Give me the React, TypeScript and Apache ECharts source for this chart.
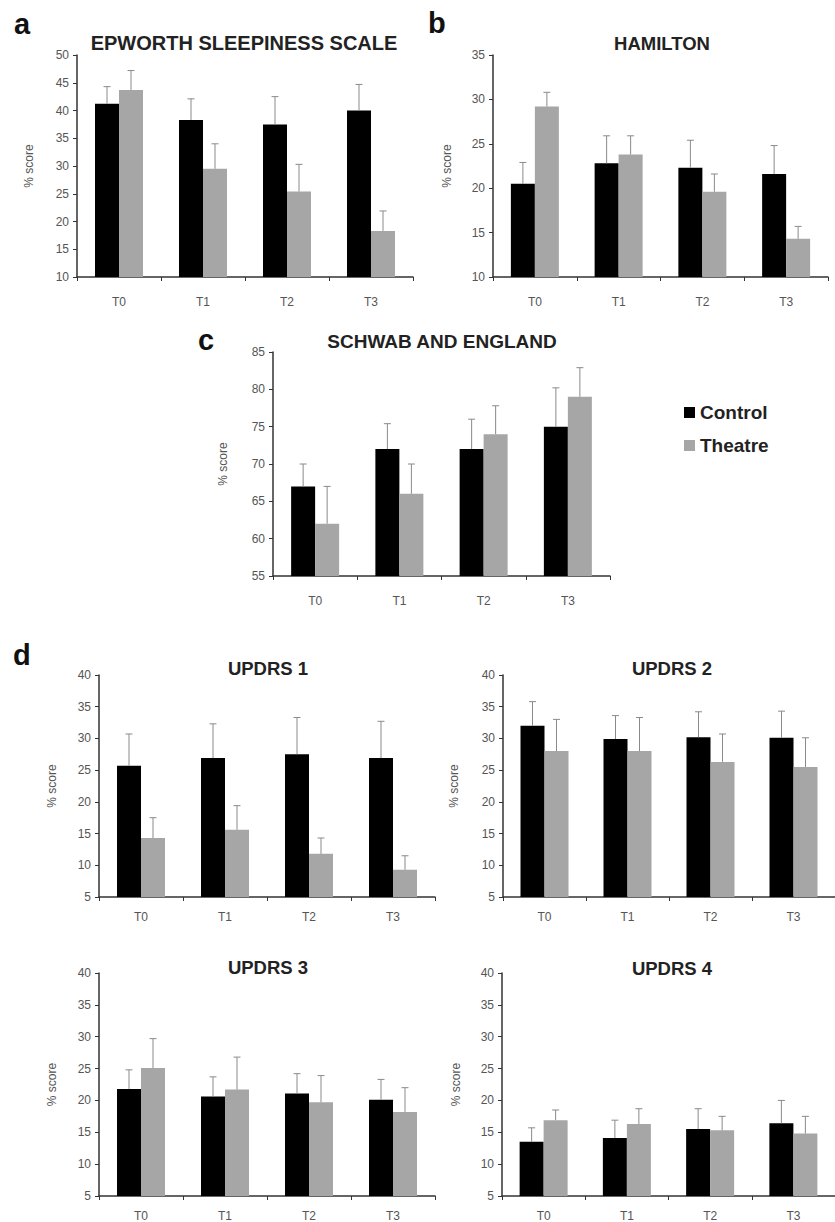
import React, { useEffect, useRef } from "react";
import * as echarts from "echarts";

const categories = ["T0", "T1", "T2", "T3"];

// a: Epworth
const epworthControl = [41.2, 38.3, 37.5, 40.0];
const epworthControlSd = [3.1, 3.8, 5.0, 4.7];
const epworthTheatre = [43.7, 29.5, 25.4, 18.3];
const epworthTheatreSd = [3.5, 4.5, 4.9, 3.6];

// b: Hamilton
const hamiltonControl = [20.5, 22.8, 22.3, 21.6];
const hamiltonControlSd = [2.4, 3.1, 3.1, 3.2];
const hamiltonTheatre = [29.2, 23.8, 19.6, 14.3];
const hamiltonTheatreSd = [1.6, 2.1, 2.0, 1.4];

// c: Schwab and England
const schwabControl = [67, 72, 72, 75];
const schwabControlSd = [3, 3.4, 4, 5.2];
const schwabTheatre = [62, 66, 74, 79];
const schwabTheatreSd = [5, 4, 3.8, 3.9];

// d: UPDRS 1-4
const updrs1Control = [25.7, 26.9, 27.5, 26.9];
const updrs1ControlSd = [5.0, 5.4, 5.8, 5.8];
const updrs1Theatre = [14.3, 15.6, 11.8, 9.3];
const updrs1TheatreSd = [3.2, 3.8, 2.5, 2.2];

const updrs2Control = [32.0, 29.9, 30.2, 30.1];
const updrs2ControlSd = [3.8, 3.7, 4.0, 4.2];
const updrs2Theatre = [28.0, 28.0, 26.3, 25.5];
const updrs2TheatreSd = [5.0, 5.3, 4.4, 4.6];

const updrs3Control = [21.8, 20.6, 21.1, 20.1];
const updrs3ControlSd = [3.0, 3.1, 3.1, 3.2];
const updrs3Theatre = [25.1, 21.7, 19.7, 18.2];
const updrs3TheatreSd = [4.6, 5.1, 4.2, 3.8];

const updrs4Control = [13.5, 14.1, 15.5, 16.4];
const updrs4ControlSd = [2.2, 2.8, 3.2, 3.6];
const updrs4Theatre = [16.9, 16.3, 15.3, 14.8];
const updrs4TheatreSd = [1.6, 2.4, 2.2, 2.7];

const seriesNames = ["Control", "Theatre"];

type Panel = {
  title: string;
  control: number[];
  controlSd: number[];
  theatre: number[];
  theatreSd: number[];
  min: number;
  max: number;
  grid: { left: number; top: number; width: number; height: number };
  titlePos: [number, number];
  titleSize: number;
  nameGap: number;
  labelMargin: number;
};

const panels: Panel[] = [
  { title: "EPWORTH SLEEPINESS SCALE", control: epworthControl, controlSd: epworthControlSd, theatre: epworthTheatre, theatreSd: epworthTheatreSd, min: 10, max: 50, grid: { left: 77, top: 55, width: 336, height: 222 }, titlePos: [244, 43], titleSize: 20, nameGap: 42, labelMargin: 19 },
  { title: "HAMILTON", control: hamiltonControl, controlSd: hamiltonControlSd, theatre: hamiltonTheatre, theatreSd: hamiltonTheatreSd, min: 10, max: 35, grid: { left: 493, top: 55, width: 335, height: 222 }, titlePos: [662, 43], titleSize: 18.5, nameGap: 40, labelMargin: 19 },
  { title: "SCHWAB AND ENGLAND", control: schwabControl, controlSd: schwabControlSd, theatre: schwabTheatre, theatreSd: schwabTheatreSd, min: 55, max: 85, grid: { left: 273, top: 352, width: 337, height: 224 }, titlePos: [442, 341], titleSize: 19, nameGap: 44, labelMargin: 19 },
  { title: "UPDRS 1", control: updrs1Control, controlSd: updrs1ControlSd, theatre: updrs1Theatre, theatreSd: updrs1TheatreSd, min: 5, max: 40, grid: { left: 99, top: 675, width: 336, height: 222 }, titlePos: [268, 668], titleSize: 18.5, nameGap: 41, labelMargin: 14 },
  { title: "UPDRS 2", control: updrs2Control, controlSd: updrs2ControlSd, theatre: updrs2Theatre, theatreSd: updrs2TheatreSd, min: 5, max: 40, grid: { left: 503, top: 675, width: 336, height: 222 }, titlePos: [672, 668], titleSize: 18.5, nameGap: 43, labelMargin: 14 },
  { title: "UPDRS 3", control: updrs3Control, controlSd: updrs3ControlSd, theatre: updrs3Theatre, theatreSd: updrs3TheatreSd, min: 5, max: 40, grid: { left: 99, top: 973, width: 336, height: 224 }, titlePos: [268, 967], titleSize: 18.5, nameGap: 41, labelMargin: 14 },
  { title: "UPDRS 4", control: updrs4Control, controlSd: updrs4ControlSd, theatre: updrs4Theatre, theatreSd: updrs4TheatreSd, min: 5, max: 40, grid: { left: 502, top: 973, width: 336, height: 223 }, titlePos: [672, 968], titleSize: 18.5, nameGap: 40, labelMargin: 14 },
];

const letters: { text: string; x: number; y: number }[] = [
  { text: "a", x: 14, y: 24 },
  { text: "b", x: 428, y: 23 },
  { text: "c", x: 198, y: 340 },
  { text: "d", x: 13, y: 655 },
];

const FONT = "'Liberation Sans', Arial, Helvetica, sans-serif";
const BAR_W = 24;
const COLORS = ["#000000", "#a6a6a6"];

function errRender(offset: number) {
  return (params: any, api: any) => {
    const cat = api.value(0);
    const mean = api.value(1);
    const top = api.value(2);
    const b = api.coord([cat, mean]);
    const t = api.coord([cat, top]);
    const x = b[0] + offset;
    const style = { stroke: "#8a8a8a", lineWidth: 1 };
    return {
      type: "group",
      children: [
        { type: "line", shape: { x1: x, y1: b[1], x2: x, y2: t[1] }, style },
        { type: "line", shape: { x1: x - 3.5, y1: t[1], x2: x + 3.5, y2: t[1] }, style },
      ],
    };
  };
}

export default function App() {
  const ref = useRef<HTMLDivElement>(null);
  useEffect(() => {
    if (!ref.current) return;
    const chart = echarts.init(ref.current, null, { renderer: "svg" });
    const grid: any[] = [];
    const xAxis: any[] = [];
    const yAxis: any[] = [];
    const series: any[] = [];
    const graphic: any[] = [];
    panels.forEach((p, i) => {
      grid.push({ ...p.grid, containLabel: false });
      xAxis.push({
        type: "category",
        gridIndex: i,
        data: categories,
        axisLine: { lineStyle: { color: "#333", width: 1.5 } },
        axisTick: { show: true, length: 4, lineStyle: { color: "#333" } },
        axisLabel: { color: "#555", fontSize: 12, fontFamily: FONT, margin: p.labelMargin },
        splitLine: { show: false },
      });
      yAxis.push({
        type: "value",
        gridIndex: i,
        min: p.min,
        max: p.max,
        interval: 5,
        startValue: p.min,
        name: "% score",
        nameLocation: "middle",
        nameRotate: 90,
        nameGap: p.nameGap,
        nameTextStyle: { color: "#555", fontSize: 12, fontFamily: FONT },
        axisLine: { show: true, lineStyle: { color: "#333", width: 1.5 } },
        axisTick: { show: true, length: 4, lineStyle: { color: "#333" } },
        axisLabel: { color: "#555", fontSize: 12, fontFamily: FONT, margin: 8 },
        splitLine: { show: false },
      });
      const groups = [
        { mean: p.control, sd: p.controlSd },
        { mean: p.theatre, sd: p.theatreSd },
      ];
      groups.forEach((g, k) => {
        series.push({
          type: "bar",
          name: seriesNames[k],
          xAxisIndex: i,
          yAxisIndex: i,
          data: g.mean,
          barWidth: BAR_W,
          barGap: "0%",
          clip: true,
          itemStyle: { color: COLORS[k] },
          emphasis: { disabled: true },
        });
      });
      groups.forEach((g, k) => {
        series.push({
          type: "custom",
          name: seriesNames[k] + " SD",
          xAxisIndex: i,
          yAxisIndex: i,
          z: 5,
          renderItem: errRender(k === 0 ? -BAR_W / 2 : BAR_W / 2),
          encode: { x: 0, y: [1, 2] },
          data: g.mean.map((m, j) => [j, m, +(m + g.sd[j]).toFixed(2)]),
          silent: true,
        });
      });
      graphic.push({
        type: "text",
        x: p.titlePos[0],
        y: p.titlePos[1],
        style: {
          text: p.title,
          fill: "#222",
          font: `bold ${p.titleSize}px ${FONT}`,
          textAlign: "center",
          textVerticalAlign: "middle",
        },
      });
    });
    letters.forEach((l) => {
      graphic.push({
        type: "text",
        x: l.x,
        y: l.y,
        style: {
          text: l.text,
          fill: "#111",
          font: `bold 29px ${FONT}`,
          textAlign: "left",
          textVerticalAlign: "middle",
        },
      });
    });
    chart.setOption({
      animation: false,
      backgroundColor: "#ffffff",
      grid,
      xAxis,
      yAxis,
      series,
      graphic,
      legend: {
        data: seriesNames,
        orient: "vertical",
        left: 679,
        top: 398,
        icon: "rect",
        itemWidth: 11,
        itemHeight: 11,
        itemGap: 14,
        textStyle: { color: "#222", fontSize: 19, fontWeight: "bold", fontFamily: FONT },
        selectedMode: false,
      },
    });
    return () => chart.dispose();
  }, []);
  return (
    <div
      ref={ref}
      style={{ position: "absolute", left: 0, top: 0, width: 835, height: 1222, background: "#fff" }}
    />
  );
}
